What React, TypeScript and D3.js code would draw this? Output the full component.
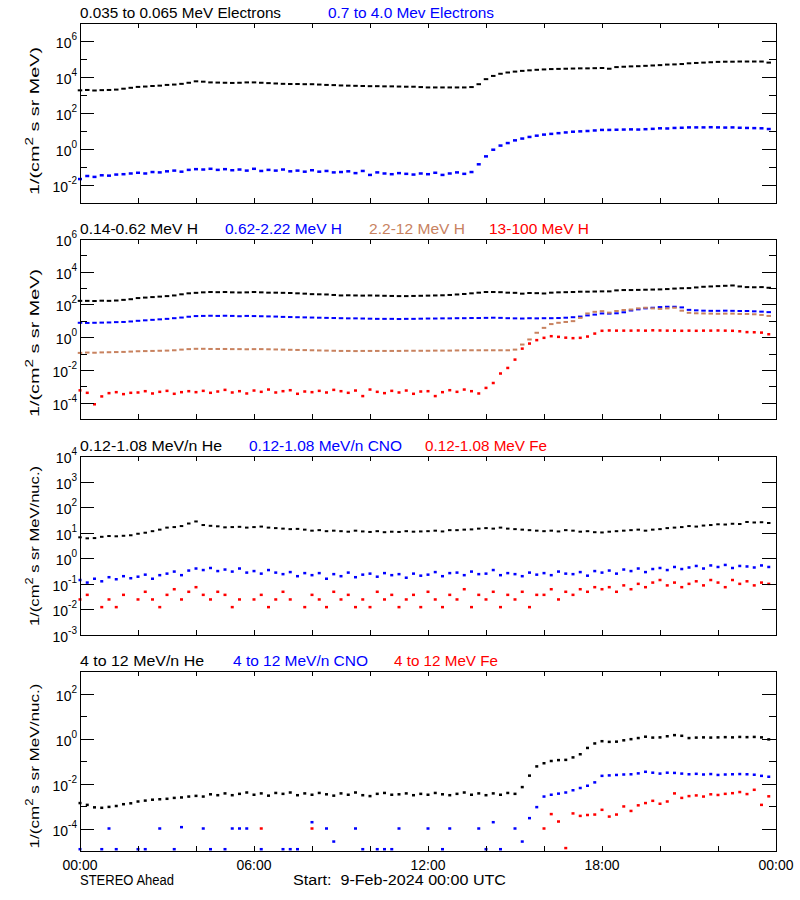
import React from 'react';
import * as d3 from 'd3';

// ---------- axis / category data ----------
const CADENCE_HOURS = 0.25; // one sample every 15 minutes, 96 samples per series
const xTickHours = [0, 2, 4, 6, 8, 10, 12, 14, 16, 18, 20, 22, 24];
const xLabelHours = [0, 6, 12, 18, 24];
const xLabelTexts = ['00:00', '06:00', '12:00', '18:00', '00:00'];

// ---------- series values (log10 of intensity) ----------
// Panel 1: electrons
const eLow = [3.26,3.28,3.25,3.27, 3.28,3.30,3.35,3.40, 3.45,3.47,3.50,3.52, 3.56,3.58,3.62,3.68, 3.76,3.74,3.70,3.69, 3.68,3.67,3.68,3.70, 3.70,3.68,3.66,3.64, 3.62,3.61,3.61,3.60, 3.60,3.58,3.56,3.55, 3.53,3.52,3.51,3.50, 3.49,3.49,3.48,3.48, 3.47,3.46,3.46,3.44, 3.42,3.42,3.42,3.42, 3.42,3.42,3.44,3.60, 3.88,4.06,4.18,4.25, 4.30,4.34,4.37,4.40, 4.42,4.44,4.45,4.46, 4.47,4.48,4.48,4.49, 4.50,4.46,4.55,4.57, 4.59,4.60,4.62,4.64, 4.66,4.69,4.70,4.72, 4.76,4.78,4.80,4.82, 4.84,4.85,4.85,4.86, 4.86,4.86,4.86,4.80];
const eHigh = [-1.67,-1.50,-1.55,-1.46, -1.48,-1.42,-1.40,-1.36, -1.32,-1.36,-1.28,-1.30, -1.24,-1.20,-1.26,-1.16, -1.12,-1.14,-1.10,-1.16, -1.12,-1.18,-1.14,-1.20, -1.10,-1.22,-1.16,-1.20, -1.14,-1.24,-1.20,-1.26, -1.18,-1.26,-1.22,-1.30, -1.28,-1.24,-1.34,-1.22, -1.44,-1.30,-1.36,-1.40, -1.34,-1.38,-1.42,-1.36, -1.40,-1.32,-1.44,-1.36, -1.30,-1.38,-1.28,-0.85, -0.41,-0.04,0.19,0.33, 0.48,0.58,0.67,0.74, 0.80,0.84,0.88,0.92, 0.96,0.98,1.00,1.03, 1.06,1.06,1.07,1.08, 1.09,1.08,1.10,1.12, 1.15,1.14,1.17,1.18, 1.20,1.20,1.20,1.21, 1.20,1.19,1.20,1.18, 1.17,1.16,1.15,1.11];

// Panel 2: protons
const hLow = [2.22,2.22,2.21,2.23, 2.22,2.24,2.28,2.32, 2.39,2.42,2.45,2.48, 2.51,2.55,2.62,2.68, 2.71,2.74,2.76,2.75, 2.76,2.74,2.73,2.74, 2.76,2.74,2.72,2.72, 2.71,2.70,2.68,2.66, 2.63,2.62,2.61,2.58, 2.55,2.56,2.55,2.54, 2.55,2.54,2.53,2.52, 2.51,2.51,2.52,2.53, 2.54,2.55,2.56,2.58, 2.61,2.64,2.68,2.72, 2.76,2.76,2.75,2.72, 2.71,2.66,2.70,2.69, 2.67,2.72,2.74,2.75, 2.76,2.78,2.78,2.79, 2.80,2.80,2.86,2.88, 2.88,2.89,2.90,2.91, 2.92,2.94,2.97,2.99, 3.00,3.04,3.08,3.10, 3.12,3.14,3.16,3.10, 3.06,3.05,3.06,3.02];
const hMid = [0.88,0.87,0.88,0.89, 0.90,0.92,0.93,0.96, 1.00,1.03,1.06,1.09, 1.12,1.16,1.20,1.25, 1.29,1.30,1.31,1.30, 1.31,1.30,1.28,1.30, 1.29,1.28,1.27,1.26, 1.24,1.23,1.22,1.21, 1.20,1.19,1.18,1.17, 1.16,1.15,1.15,1.14, 1.13,1.12,1.12,1.12, 1.11,1.12,1.12,1.13, 1.14,1.14,1.15,1.15, 1.16,1.16,1.17,1.17, 1.18,1.19,1.18,1.16, 1.15,1.14,1.16,1.15, 1.16,1.16,1.17,1.19, 1.22,1.26,1.33,1.38, 1.45,1.44,1.46,1.52, 1.63,1.70,1.76,1.80, 1.84,1.86,1.86,1.82, 1.67,1.64,1.62,1.61, 1.61,1.62,1.61,1.60, 1.60,1.58,1.56,1.53];
const hMidHigh = [-0.96,-0.94,-0.95,-0.93, -0.92,-0.91,-0.90,-0.88, -0.86,-0.85,-0.84,-0.83, -0.82,-0.80,-0.76,-0.73, -0.71,-0.71,-0.72,-0.72, -0.72,-0.73,-0.73,-0.74, -0.73,-0.73,-0.74,-0.75, -0.76,-0.77,-0.78,-0.79, -0.80,-0.81,-0.82,-0.83, -0.84,-0.84,-0.85,-0.84, -0.84,-0.84,-0.84,-0.84, -0.84,-0.83,-0.83,-0.83, -0.83,-0.82,-0.82,-0.82, -0.81,-0.80,-0.80,-0.80, -0.80,-0.80,-0.80,-0.80, -0.76,-0.45,-0.14,0.27, 0.57,0.80,0.88,0.93, 0.98,1.18,1.45,1.55, 1.59,1.50,1.60,1.66, 1.69,1.76,1.80,1.76, 1.73,1.76,1.80,1.62, 1.49,1.46,1.45,1.44, 1.43,1.44,1.44,1.42, 1.42,1.40,1.36,1.30];
const hHigh = [-3.25,-3.40,-4.10,-3.62, -3.42,-3.36,-3.48,-3.40, -3.38,-3.30,-3.44,-3.34, -3.28,-3.46,-3.36,-3.30, -3.36,-3.28,-3.40,-3.32, -3.22,-3.38,-3.30,-3.44, -3.26,-3.34,-3.20,-3.38, -3.30,-3.24,-3.46,-3.32, -3.36,-3.28,-3.38,-3.22, -3.30,-3.40,-3.26,-3.60, -3.20,-3.34,-3.42,-3.28, -3.38,-3.26,-3.46,-3.32, -3.30,-3.60,-3.36,-3.24, -3.34,-3.20,-3.30,-3.44, -3.10,-2.80,-2.22,-1.88, -1.37,-0.70,-0.39,-0.18, -0.04,0.06,0.02,-0.03, -0.06,-0.04,0.04,0.22, 0.39,0.41,0.40,0.40, 0.40,0.41,0.40,0.42, 0.41,0.40,0.40,0.39, 0.40,0.39,0.40,0.40, 0.41,0.40,0.39,0.36, 0.31,0.30,0.28,0.18];

// Panel 3: 0.12-1.08 MeV/n heavy ions
const heLow = [0.82,0.78,0.79,0.84, 0.87,0.86,0.88,0.90, 0.96,1.00,1.06,1.12, 1.20,1.22,1.26,1.36, 1.44,1.30,1.27,1.25, 1.21,1.22,1.23,1.20, 1.22,1.24,1.20,1.18, 1.16,1.14,1.15,1.12, 1.08,1.10,1.06,1.08, 1.06,1.04,1.08,1.05, 1.03,1.06,1.02,1.04, 1.03,1.06,1.04,1.05, 1.06,1.08,1.05,1.10, 1.10,1.12,1.13,1.16, 1.18,1.16,1.20,1.16, 1.14,1.12,1.10,1.08, 1.06,1.08,1.05,1.10, 1.08,1.04,1.06,1.02, 1.01,1.04,1.06,1.08, 1.10,1.12,1.08,1.12, 1.14,1.18,1.20,1.22, 1.26,1.24,1.28,1.30, 1.33,1.32,1.35,1.34, 1.42,1.40,1.41,1.38];
const cnoLow = [-0.85,-0.95,-0.80,-0.90, -0.74,-0.82,-0.70,-0.78, -0.72,-0.64,-0.80,-0.66, -0.60,-0.52,-0.66,-0.48, -0.40,-0.46,-0.38,-0.50, -0.44,-0.52,-0.40,-0.56, -0.50,-0.60,-0.46,-0.56, -0.62,-0.54,-0.70,-0.58, -0.66,-0.58,-0.80,-0.62, -0.70,-0.56,-0.74,-0.64, -0.60,-0.72,-0.58,-0.66, -0.62,-0.76,-0.60,-0.68, -0.64,-0.54,-0.70,-0.58, -0.56,-0.66,-0.52,-0.62, -0.60,-0.46,-0.66,-0.58, -0.62,-0.70,-0.56,-0.64, -0.58,-0.66,-0.52,-0.60, -0.62,-0.54,-0.68,-0.50, -0.56,-0.48,-0.60,-0.44, -0.50,-0.40,-0.54,-0.42, -0.38,-0.46,-0.34,-0.42, -0.36,-0.30,-0.40,-0.28, -0.34,-0.26,-0.38,-0.30, -0.32,-0.36,-0.28,-0.34];
const feLow = [-1.61,-1.43,null,-1.91, -1.61,-1.91,-1.43,null, -1.61,-1.31,-1.61,-1.91, -1.43,-1.21,-1.61,-1.31, -1.13,-1.43,-1.61,-1.31, -1.43,-1.91,-1.61,null, -1.61,-1.43,-1.91,-1.61, -1.31,-1.61,null,-1.91, -1.43,-1.61,-1.91,-1.31, -1.61,-1.43,-1.91,-1.61, -1.91,-1.31,-1.61,-1.43, -1.91,-1.61,-1.43,-1.91, -1.31,-1.61,-1.91,-1.43, -1.61,-1.21,-1.91,-1.43, -1.61,-1.31,-1.91,-1.43, -1.61,-1.31,-1.91,-1.43, -1.43,-1.21,-1.61,-1.31, -1.43,-1.21,-1.31,-1.13, -1.21,-1.13,-1.31,-1.06, -1.21,-1.00,-1.13,-0.95, -0.85,-1.06,-0.95,-1.13, -1.00,-0.90,-1.06,-0.85, -0.95,-1.13,-0.85,-1.00, -0.90,-1.06,-0.95,-1.00];

// Panel 4: 4-12 MeV/n heavy ions
const heHigh = [-2.87,-2.95,-3.06,-3.08, -3.04,-3.00,-2.92,-2.88, -2.80,-2.76,-2.72,-2.70, -2.68,-2.64,-2.62,-2.58, -2.55,-2.58,-2.48,-2.52, -2.44,-2.52,-2.46,-2.40, -2.50,-2.44,-2.54,-2.42, -2.46,-2.40,-2.52,-2.44, -2.50,-2.42,-2.48,-2.54, -2.44,-2.50,-2.40,-2.52, -2.56,-2.46,-2.42,-2.50, -2.48,-2.44,-2.52,-2.46, -2.50,-2.42,-2.48,-2.52, -2.46,-2.40,-2.50,-2.44, -2.52,-2.44,-2.50,-2.42, -2.46,-2.16,-1.65,-1.24, -1.10,-1.00,-0.96,-0.95, -0.84,-0.70,-0.42,-0.22, -0.12,-0.15,-0.14,-0.08, -0.03,0.02,0.08,0.04, 0.05,0.10,0.15,0.12, 0.02,0.04,0.05,0.04, 0.05,0.06,0.05,0.07, 0.06,0.07,0.05,-0.04];
const cnoHigh = [-4.92,null,null,-4.92, -4.00,-4.92,null,null, -4.92,-4.92,null,-4.00, null,-4.92,-3.94,null, null,-4.00,-4.92,null, -4.92,-4.00,-4.00,-4.00, null,-4.92,null,null, -4.92,-4.92,-4.92,null, -3.72,null,-4.00,-4.58, null,null,-4.00,-4.92, null,-4.92,-4.92,-4.92, -4.00,null,null,null, -4.00,null,-4.92,-4.00, null,null,null,-4.00, -4.92,-3.72,-4.92,null, -4.00,-4.58,-3.54,-3.05, -2.58,-2.50,-2.45,-2.40, -2.30,-2.20,-2.10,-1.95, -1.66,-1.64,-1.62,-1.60, -1.59,-1.55,-1.48,-1.52, -1.56,-1.52,-1.53,-1.56, -1.59,-1.57,-1.60,-1.58, -1.62,-1.60,-1.59,-1.58, -1.59,-1.61,-1.66,-1.70];
const feHigh = [null,null,null,null, null,null,null,null, null,null,null,null, null,null,null,null, null,null,null,null, null,null,null,null, null,-4.00,null,null, null,null,null,null, -4.00,null,null,null, null,null,null,null, null,null,null,null, null,null,null,null, null,null,null,null, null,null,null,null, null,null,null,null, null,null,null,null, -4.00,-3.36,-3.69,-4.87, -3.33,-3.44,-3.40,-3.38, -3.17,-3.47,-3.38,-3.02, -3.22,-2.97,-2.87,-2.77, -2.90,-2.80,-2.44,-2.64, -2.56,-2.53,-2.58,-2.48, -2.51,-2.46,-2.43,-2.38, -2.47,-2.28,-2.95,-2.57];

// ---------- layout ----------
const X0 = 80;
const X1 = 776;
const BLACK = '#000000';
const BLUE = '#0000ff';
const TAN = '#c8825f';
const RED = '#ff0000';
const FONT = '"Liberation Sans", Arial, Helvetica, sans-serif';

type Series = { values: (number | null)[]; color: string; w: number; h: number };
type Title = { text: string; color: string; x: number; len: number };
type PanelCfg = {
  top: number; bottom: number; lo: number; hi: number;
  labelled: number[]; titles: Title[]; series: Series[];
  yTitle: string; yTitleCenter: number; yTitleLen: number;
};

const panels: PanelCfg[] = [
  {
    top: 23, bottom: 203, lo: -3, hi: 7, labelled: [6, 4, 2, 0, -2],
    titles: [
      { text: '0.035 to 0.065 MeV Electrons', color: BLACK, x: 80, len: 201 },
      { text: '0.7 to 4.0 Mev Electrons', color: BLUE, x: 328, len: 166 },
    ],
    series: [
      { values: eLow, color: BLACK, w: 4.5, h: 2 },
      { values: eHigh, color: BLUE, w: 4, h: 2.5 },
    ],
    yTitle: 'MeV)', yTitleCenter: 121, yTitleLen: 148,
  },
  {
    top: 239, bottom: 419, lo: -5, hi: 6, labelled: [6, 4, 2, 0, -2, -4],
    titles: [
      { text: '0.14-0.62 MeV H', color: BLACK, x: 80, len: 118 },
      { text: '0.62-2.22 MeV H', color: BLUE, x: 225, len: 117 },
      { text: '2.2-12 MeV H', color: TAN, x: 369, len: 96 },
      { text: '13-100 MeV H', color: RED, x: 489, len: 100 },
    ],
    series: [
      { values: hLow, color: BLACK, w: 4.5, h: 2 },
      { values: hMid, color: BLUE, w: 4.5, h: 2 },
      { values: hMidHigh, color: TAN, w: 4.5, h: 2 },
      { values: hHigh, color: RED, w: 3, h: 2.5 },
    ],
    yTitle: 'MeV)', yTitleCenter: 343, yTitleLen: 148,
  },
  {
    top: 456, bottom: 635, lo: -3, hi: 4, labelled: [4, 3, 2, 1, 0, -1, -2, -3],
    titles: [
      { text: '0.12-1.08 MeV/n He', color: BLACK, x: 80, len: 142 },
      { text: '0.12-1.08 MeV/n CNO', color: BLUE, x: 249, len: 153 },
      { text: '0.12-1.08 MeV Fe', color: RED, x: 425, len: 122 },
    ],
    series: [
      { values: heLow, color: BLACK, w: 3.5, h: 2 },
      { values: cnoLow, color: BLUE, w: 3, h: 2.5 },
      { values: feLow, color: RED, w: 3, h: 2.5 },
    ],
    yTitle: 'MeV/nuc.)', yTitleCenter: 546, yTitleLen: 160,
  },
  {
    top: 671, bottom: 851, lo: -5, hi: 3, labelled: [2, 0, -2, -4],
    titles: [
      { text: '4 to 12 MeV/n He', color: BLACK, x: 80, len: 124 },
      { text: '4 to 12 MeV/n CNO', color: BLUE, x: 233, len: 135 },
      { text: '4 to 12 MeV Fe', color: RED, x: 394, len: 104 },
    ],
    series: [
      { values: heHigh, color: BLACK, w: 3, h: 2.5 },
      { values: cnoHigh, color: BLUE, w: 3, h: 2.5 },
      { values: feHigh, color: RED, w: 3, h: 2.5 },
    ],
    yTitle: 'MeV/nuc.)', yTitleCenter: 766, yTitleLen: 165,
  },
];

const x = d3.scaleLinear().domain([0, 24]).range([X0, X1]);
const crisp = (v: number) => Math.round(v) + 0.5;

function Panel({ cfg, showXLabels }: { cfg: PanelCfg; showXLabels: boolean }) {
  const y = d3.scaleLog().domain([10 ** cfg.lo, 10 ** cfg.hi]).range([cfg.bottom, cfg.top]);
  const exps = d3.range(cfg.lo, cfg.hi + 1);
  const majorLen = 14;
  const minorLen = 7;
  const xTickLen = 5;

  return (
    <g>
      {cfg.titles.map((t, i) => (
        <text key={'t' + i} x={t.x} y={cfg.top - 5} fill={t.color} fontSize={14}
          textLength={t.len} lengthAdjust="spacingAndGlyphs" style={{ whiteSpace: 'pre' }}>{t.text}</text>
      ))}

      {cfg.series.map((s, si) => (
        <g key={'s' + si} fill={s.color}>
          {s.values.map((v, i) => {
            if (v === null) return null;
            const cx = x(i * CADENCE_HOURS);
            const cy = y(10 ** v);
            return <rect key={i} x={cx - s.w / 2} y={cy - s.h / 2} width={s.w} height={s.h} />;
          })}
        </g>
      ))}

      <rect x={X0 + 0.5} y={cfg.top + 0.5} width={X1 - X0} height={cfg.bottom - cfg.top}
        fill="none" stroke="#000" strokeWidth={1} shapeRendering="crispEdges" />

      {exps.map((e) => {
        const yy = crisp(y(10 ** e));
        const len = cfg.labelled.includes(e) ? majorLen : minorLen;
        return (
          <g key={'y' + e} stroke="#000" strokeWidth={1} shapeRendering="crispEdges">
            <line x1={X0} x2={X0 + len} y1={yy} y2={yy} />
            <line x1={X1 - len} x2={X1} y1={yy} y2={yy} />
          </g>
        );
      })}

      {cfg.labelled.map((e) => {
        const yy = y(10 ** e);
        return (
          <text key={'yl' + e} x={77} y={yy + 7} textAnchor="end" fontSize={14} fill="#000">
            10<tspan dy={-8} fontSize={10}>{String(e)}</tspan>
          </text>
        );
      })}

      {xTickHours.map((h) => {
        const xx = crisp(x(h));
        return (
          <g key={'x' + h} stroke="#000" strokeWidth={1} shapeRendering="crispEdges">
            <line x1={xx} x2={xx} y1={cfg.top} y2={cfg.top + xTickLen} />
            <line x1={xx} x2={xx} y1={cfg.bottom} y2={cfg.bottom - xTickLen} />
          </g>
        );
      })}

      <text transform={`translate(39,${cfg.yTitleCenter}) rotate(-90)`} textAnchor="middle"
        fontSize={13} fill="#000" textLength={cfg.yTitleLen} lengthAdjust="spacingAndGlyphs">
        1/(cm<tspan dy={-6} fontSize={10}>2</tspan><tspan dy={6}>{' s sr ' + cfg.yTitle}</tspan>
      </text>

      {showXLabels && xLabelHours.map((h, i) => (
        <text key={'xl' + i} x={x(h)} y={870} textAnchor="middle" fontSize={14} fill="#000">
          {xLabelTexts[i]}
        </text>
      ))}
    </g>
  );
}

export default function App() {
  return (
    <svg width={800} height={900} viewBox="0 0 800 900"
      style={{ position: 'absolute', left: 0, top: 0, background: '#fff', fontFamily: FONT }}>
      <rect x={0} y={0} width={800} height={900} fill="#fff" />
      {panels.map((p, i) => (
        <Panel key={i} cfg={p} showXLabels={i === panels.length - 1} />
      ))}
      <text x={80} y={885} fontSize={14} fill="#000" textLength={94} lengthAdjust="spacingAndGlyphs">STEREO Ahead</text>
      <text x={293} y={885} fontSize={14} fill="#000" textLength={213} lengthAdjust="spacingAndGlyphs"
        style={{ whiteSpace: 'pre' }}>{'Start:  9-Feb-2024 00:00 UTC'}</text>
    </svg>
  );
}
